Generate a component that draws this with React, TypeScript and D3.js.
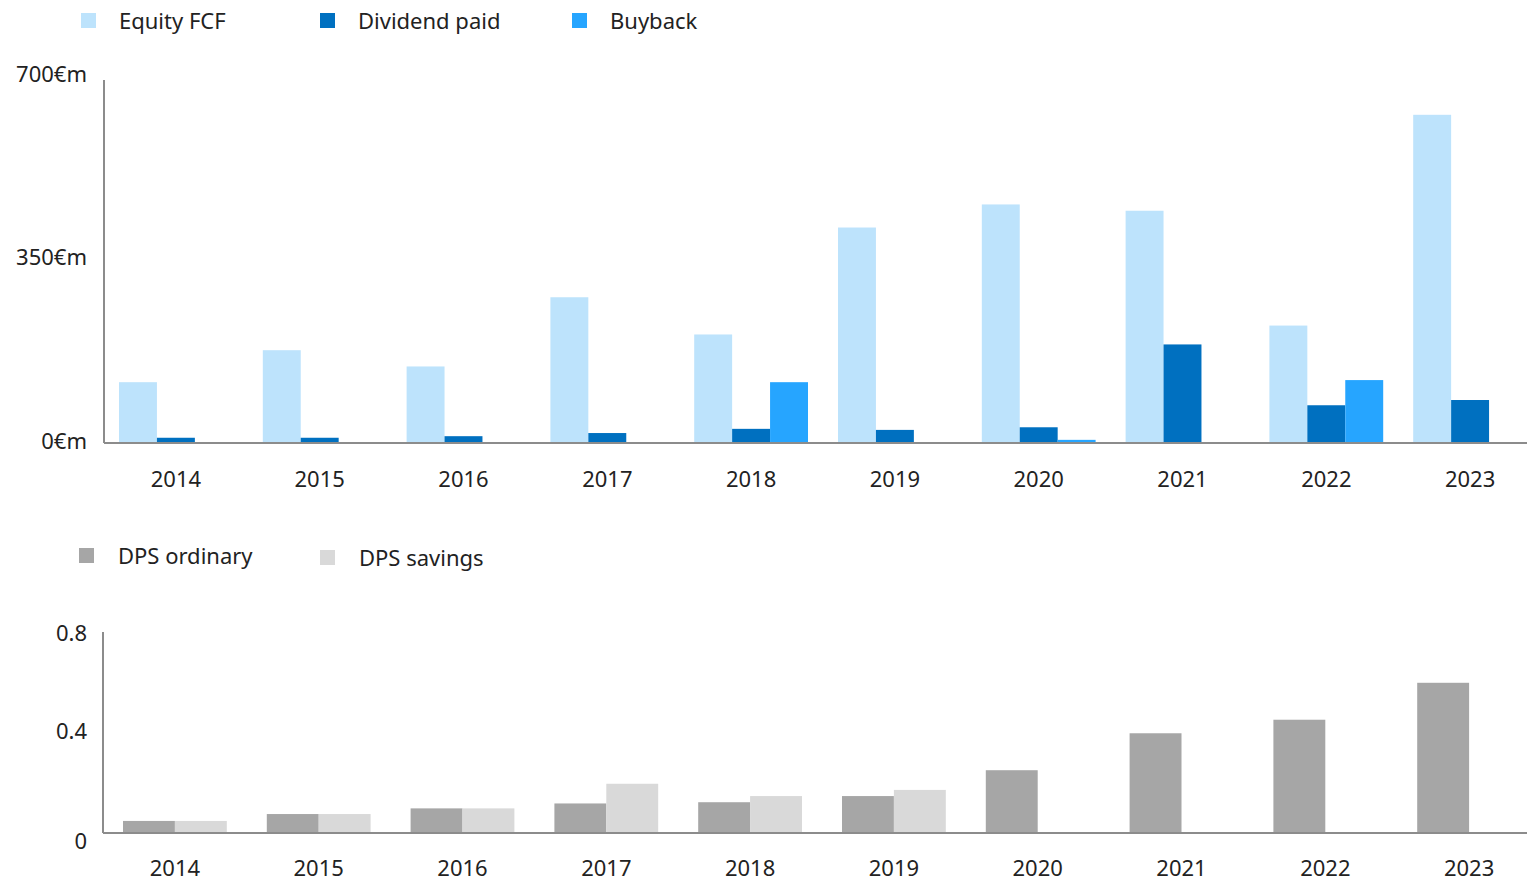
import React from 'react'
import * as d3 from 'd3'

const years = ['2014', '2015', '2016', '2017', '2018', '2019', '2020', '2021', '2022', '2023']
const equityFcf = [116, 177, 146, 278, 207, 411, 455, 443, 224, 626]
const dividendPaid = [10, 10, 13, 19, 27, 25, 30, 188, 72, 82]
const buyback = [0, 0, 0, 0, 116, 0, 6, 0, 120, 0]
const cashTicks = [0, 350, 700]

const dpsOrdinary = [0.049, 0.077, 0.1, 0.12, 0.125, 0.15, 0.255, 0.405, 0.46, 0.61]
const dpsSavings = [0.049, 0.077, 0.1, 0.2, 0.15, 0.175, 0, 0, 0, 0]
const dpsTicks = [0, 0.4, 0.8]

const topSeries = [
    { name: 'Equity FCF', values: equityFcf, color: '#BDE3FC' },
    { name: 'Dividend paid', values: dividendPaid, color: '#0070C0' },
    { name: 'Buyback', values: buyback, color: '#26A5FF' },
]
const bottomSeries = [
    { name: 'DPS ordinary', values: dpsOrdinary, color: '#A6A6A6' },
    { name: 'DPS savings', values: dpsSavings, color: '#D9D9D9' },
]

const FONT = '"Noto Sans", "Open Sans", sans-serif'
const TEXT = '#222'
const AXIS = '#8c8c8c'

const App = () => {
    const width = 1527
    const height = 881

    // top chart (plot runs a little past the right edge)
    const topLeft = 104
    const x = d3.scaleBand().domain(years).range([topLeft, 1542])
    const xInner = d3.scaleBand().domain(topSeries.map(s => s.name)).range([15, x.bandwidth() - 15])
    const y = d3.scaleLinear().domain([0, 700]).range([443, 76])

    // bottom chart
    const botLeft = 103
    const x2 = d3.scaleBand().domain(years).range([botLeft, 1541])
    const x2Inner = d3.scaleBand().domain(bottomSeries.map(s => s.name)).range([20, x2.bandwidth() - 20])
    const y2 = d3.scaleLinear().domain([0, 0.8]).range([833, 636])

    const topLegendX = [81, 320, 572]
    const botLegendX = [79, 320]

    return (
        <svg width={width} height={height} style={{ position: 'absolute', left: 0, top: 0 }} fontFamily={FONT}>
            <rect width={width} height={height} fill="#fff" />
            {/* top legend */}
            {topSeries.map((s, i) => (
                <g key={s.name}>
                    <rect x={topLegendX[i]} y={13} width={15} height={15} fill={s.color} />
                    <text x={topLegendX[i] + 38} y={21} dy="0.35em" fontSize={22} fill={TEXT}>{s.name}</text>
                </g>
            ))}
            {/* top bars */}
            {topSeries.map(s => (
                <g key={s.name}>
                    {years.map((yr, j) => s.values[j] > 0 && (
                        <rect
                            key={yr}
                            x={x(yr)! + xInner(s.name)!}
                            y={y(s.values[j])}
                            width={xInner.bandwidth()}
                            height={y(0) - y(s.values[j])}
                            fill={s.color}
                        />
                    ))}
                </g>
            ))}
            <line x1={topLeft} x2={topLeft} y1={80} y2={y(0)} stroke={AXIS} strokeWidth={2} />
            <line x1={topLeft} x2={width} y1={y(0)} y2={y(0)} stroke={AXIS} strokeWidth={2} />
            {cashTicks.map(t => (
                <text key={t} x={87} y={y(t) - 2} dy="0.35em" textAnchor="end" fontSize={22} fill={TEXT}>{`${t}€m`}</text>
            ))}
            {years.map(yr => (
                <text key={yr} x={x(yr)! + x.bandwidth() / 2} y={479} dy="0.35em" textAnchor="middle" fontSize={22} fill={TEXT}>{yr}</text>
            ))}

            {/* bottom legend */}
            {bottomSeries.map((s, i) => (
                <g key={s.name}>
                    <rect x={botLegendX[i]} y={548 + i * 2} width={15} height={15} fill={s.color} />
                    <text x={botLegendX[i] + 39} y={556 + i * 2} dy="0.35em" fontSize={22} fill={TEXT}>{s.name}</text>
                </g>
            ))}
            {/* bottom bars */}
            {bottomSeries.map(s => (
                <g key={s.name}>
                    {years.map((yr, j) => s.values[j] > 0 && (
                        <rect
                            key={yr}
                            x={x2(yr)! + x2Inner(s.name)!}
                            y={y2(s.values[j])}
                            width={x2Inner.bandwidth()}
                            height={y2(0) - y2(s.values[j])}
                            fill={s.color}
                        />
                    ))}
                </g>
            ))}
            <line x1={botLeft} x2={botLeft} y1={632} y2={y2(0)} stroke={AXIS} strokeWidth={2} />
            <line x1={botLeft} x2={width} y1={y2(0)} y2={y2(0)} stroke={AXIS} strokeWidth={2} />
            {dpsTicks.map(t => (
                <text key={t} x={87} y={y2(t) + (t === 0 ? 8 : -3)} dy="0.35em" textAnchor="end" fontSize={22} fill={TEXT}>{t}</text>
            ))}
            {years.map(yr => (
                <text key={yr} x={x2(yr)! + x2.bandwidth() / 2} y={868} dy="0.35em" textAnchor="middle" fontSize={22} fill={TEXT}>{yr}</text>
            ))}
        </svg>
    )
}

export default App
